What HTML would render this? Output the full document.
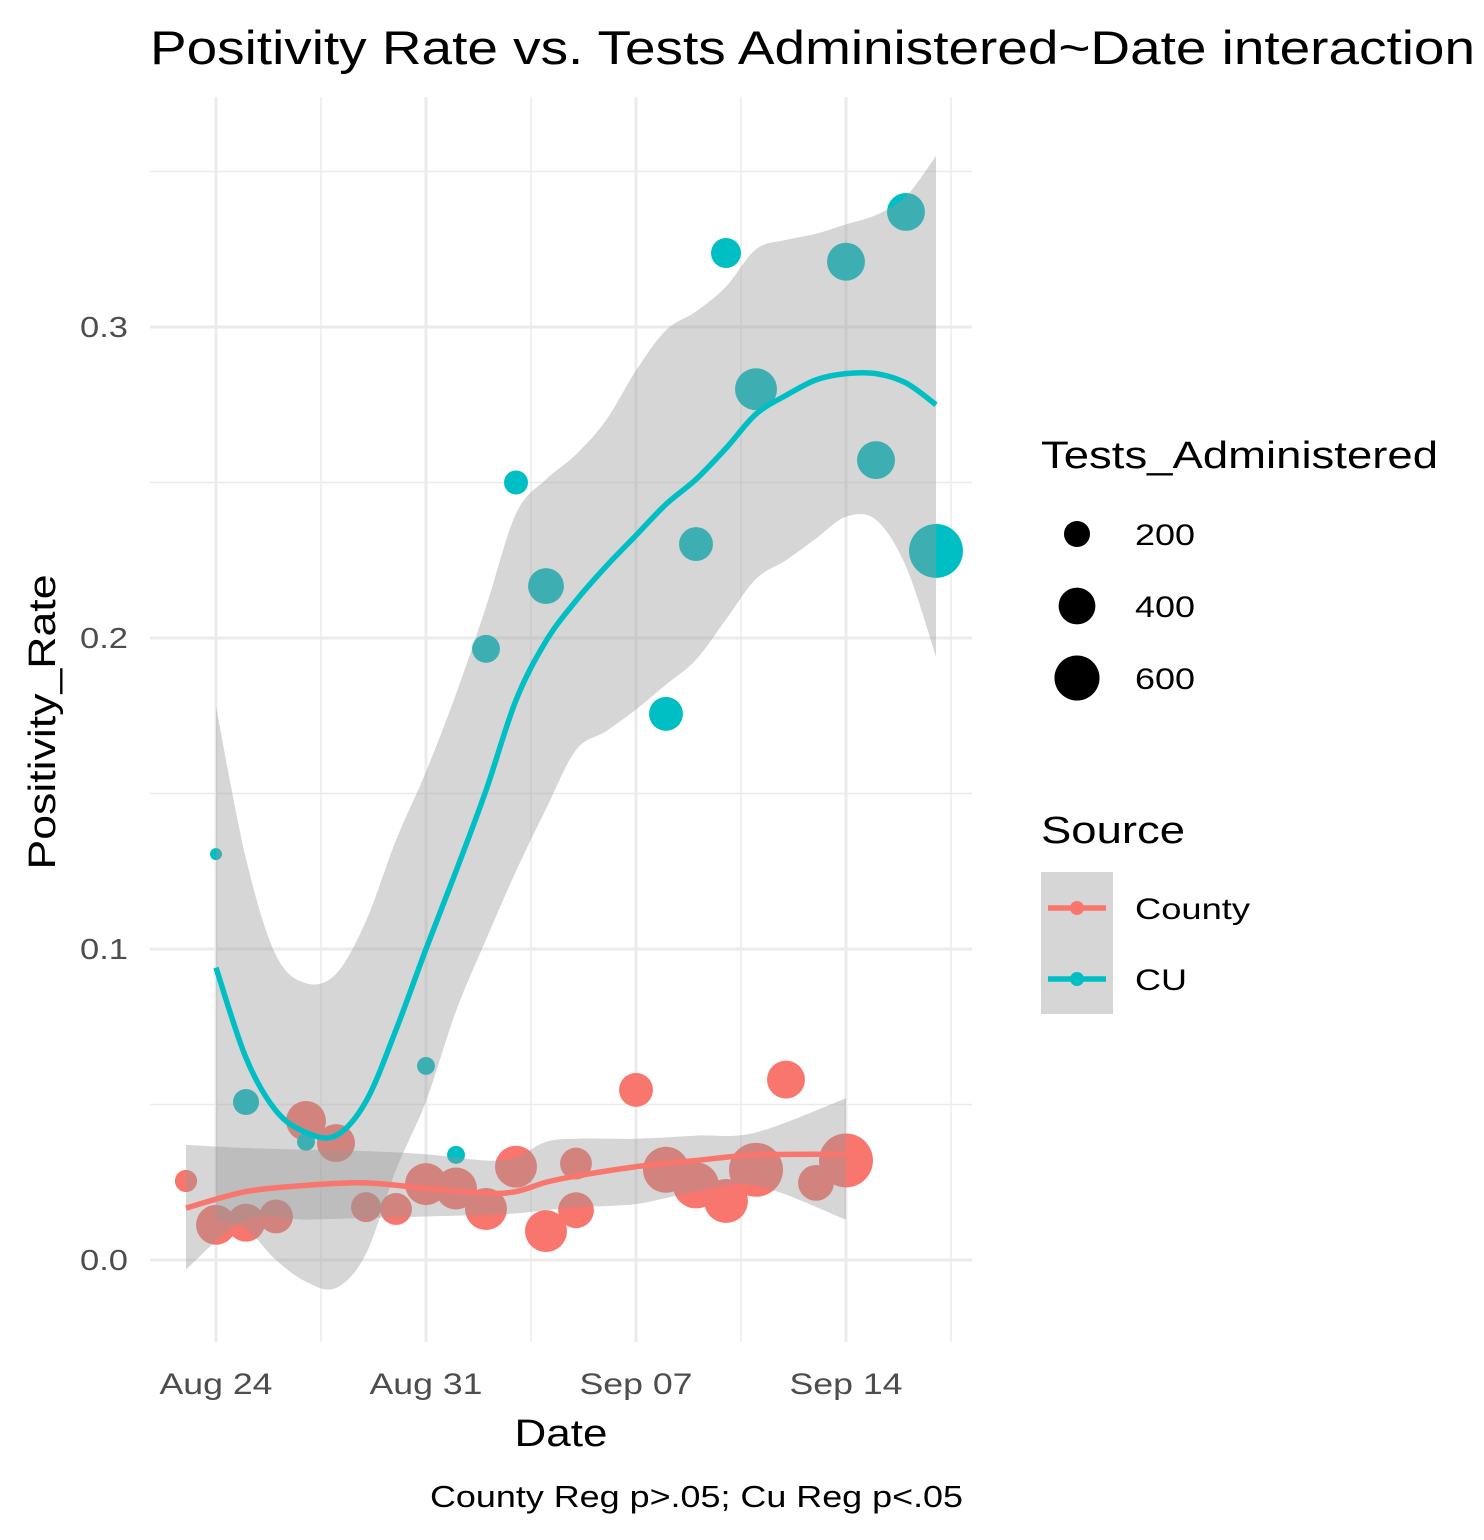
<!DOCTYPE html>
<html><head><meta charset="utf-8"><style>
body{margin:0;background:#fff}
svg{display:block;font-family:"Liberation Sans",Arial,sans-serif}
</style></head><body>
<svg id="c" width="1484" height="1540" viewBox="0 0 1484 1540"></svg>
<script>
// ---- data ----
const countyDays=[-1,0,1,2,3,4,5,6,7,8,9,10,11,12,12,14,15,16,17,18,19,20,21];
const countyRate=[0.0254,0.0113,0.012,0.014,0.0447,0.0376,0.017,0.0164,0.0244,0.023,0.0164,0.030,0.0093,0.031,0.016,0.0547,0.029,0.024,0.019,0.029,0.058,0.0248,0.032];
const countyTests=[145,470,425,340,470,425,265,300,520,520,520,520,520,300,380,340,625,625,570,860,425,380,860];
const cuDays=[0,1,3,7,8,9,10,11,15,16,17,18,21,22,23,24];
const cuRate=[0.1305,0.0508,0.038,0.0624,0.0338,0.1965,0.250,0.2167,0.1756,0.2302,0.3238,0.280,0.321,0.2572,0.337,0.228];
const cuTests=[42,200,95,95,95,230,170,380,340,340,265,520,425,425,425,860];
const cuFitDays=[0,1,2,3,4,5,6,7,8,9,10,11,12,13,14,15,16,17,18,19,20,21,22,23,24];
const cuFit=[0.094,0.065,0.048,0.041,0.040,0.051,0.074,0.100,0.125,0.151,0.180,0.199,0.212,0.223,0.233,0.243,0.251,0.261,0.272,0.278,0.283,0.285,0.285,0.282,0.275];
const cuUpper=[0.178,0.129,0.098,0.089,0.092,0.109,0.135,0.157,0.182,0.210,0.240,0.251,0.259,0.270,0.286,0.299,0.305,0.313,0.325,0.328,0.330,0.333,0.336,0.342,0.355];
const cuLower=[0.013,0.010,0.000,-0.007,-0.009,0.002,0.029,0.051,0.080,0.103,0.125,0.145,0.164,0.170,0.177,0.185,0.193,0.206,0.219,0.225,0.232,0.239,0.238,0.223,0.194];
const coFitDays=[-1,1,3,5,7,9,10,11,12,14,16,18,21];
const coFit=[0.0167,0.022,0.024,0.0248,0.023,0.0215,0.022,0.025,0.027,0.030,0.032,0.0338,0.034];
const coUpper=[0.037,0.036,0.0355,0.035,0.034,0.032,0.033,0.038,0.039,0.039,0.040,0.041,0.052];
const coLower=[-0.003,0.013,0.013,0.0135,0.014,0.0145,0.015,0.016,0.017,0.018,0.022,0.024,0.013];
const xTickDays=[0,7,14,21];
const xTickLabels=["Aug 24","Aug 31","Sep 07","Sep 14"];
const yTicks=[0,0.1,0.2,0.3];
const yTickLabels=["0.0","0.1","0.2","0.3"];
const legendSizes=[200,400,600];

// ---- scales ----
const X=d=>216+d*30;
const Y=v=>1260-v*3110;
const R=n=>0.92*Math.sqrt(n);
const NS="http://www.w3.org/2000/svg";
const svg=document.getElementById('c');
function el(t,a,p){const e=document.createElementNS(NS,t);for(const k in a)e.setAttribute(k,a[k]);(p||svg).appendChild(e);return e;}
function txt(s,a,len){const e=el('text',a);e.textContent=s;if(len){e.setAttribute('textLength',len);e.setAttribute('lengthAdjust','spacingAndGlyphs');}return e;}

// grid
for(let i=0;i<4;i++){let l=el('line',{x1:X(xTickDays[i]+3.5),x2:X(xTickDays[i]+3.5),y1:97,y2:1342,stroke:'#ebebeb','stroke-width':1.5});
}
for(let i=0;i<4;i++){let v=yTicks[i]+0.05;let l=el('line',{x1:150,x2:972,y1:Y(v),y2:Y(v),stroke:'#ebebeb','stroke-width':1.5});
}
xTickDays.forEach((d,i)=>{let l=el('line',{x1:X(d),x2:X(d),y1:97,y2:1342,stroke:'#ebebeb','stroke-width':3});

let t=txt(xTickLabels[i],{x:X(d),y:1394,'text-anchor':'middle','font-size':30,fill:'#4d4d4d'},113);
});
yTicks.forEach((v,i)=>{let l=el('line',{x1:150,x2:972,y1:Y(v),y2:Y(v),stroke:'#ebebeb','stroke-width':3});

let t=txt(yTickLabels[i],{x:128,y:Y(v)+10,'text-anchor':'end','font-size':29,fill:'#4d4d4d'},48);
});

// points
countyDays.forEach((d,i)=>{let c=el('circle',{cx:X(d),cy:Y(countyRate[i]),r:R(countyTests[i]),fill:'#F8766D'});
});
cuDays.forEach((d,i)=>{let c=el('circle',{cx:X(d),cy:Y(cuRate[i]),r:R(cuTests[i]),fill:'#00BFC4'});
});

function smoothPath(xs,ys){let p=xs.map((x,i)=>[X(x),Y(ys[i])]);let s='M'+p[0][0]+','+p[0][1];
for(let i=0;i<p.length-1;i++){const p0=p[i-1]||p[i],p1=p[i],p2=p[i+1],p3=p[i+2]||p2;
s+=` C${p1[0]+(p2[0]-p0[0])/6},${p1[1]+(p2[1]-p0[1])/6} ${p2[0]-(p3[0]-p1[0])/6},${p2[1]-(p3[1]-p1[1])/6} ${p2[0]},${p2[1]}`;}return s;}
function ribbon(xs,up,lo,name){let a=smoothPath(xs,up);let rx=xs.slice().reverse(),rl=lo.slice().reverse();
let b=smoothPath(rx,rl).replace(/^M/,'L');let p=el('path',{d:a+b+'Z',fill:'#999999','fill-opacity':0.4});
}
ribbon(coFitDays,coUpper,coLower,'county-confidence-band');
ribbon(cuFitDays,cuUpper,cuLower,'cu-confidence-band');
let l1=el('path',{d:smoothPath(coFitDays,coFit),fill:'none',stroke:'#F8766D','stroke-width':5.5});

let l2=el('path',{d:smoothPath(cuFitDays,cuFit),fill:'none',stroke:'#00BFC4','stroke-width':5.5});


// titles
let t=txt('Positivity Rate vs. Tests Administered~Date interaction',{x:150,y:64,'font-size':47,fill:'#000'},1325);

t=txt('Date',{x:561,y:1446,'text-anchor':'middle','font-size':38,fill:'#000'},93);

t=txt('Positivity_Rate',{x:0,y:0,'text-anchor':'middle','font-size':38,fill:'#000',transform:'translate(55,722) rotate(-90)'},295);

t=txt('County Reg p>.05; Cu Reg p<.05',{x:963,y:1507,'text-anchor':'end','font-size':31,fill:'#000'},533);


// size legend
t=txt('Tests_Administered',{x:1041,y:468,'font-size':38,fill:'#000'},397);

legendSizes.forEach((n,i)=>{let cy=534+i*72;let c=el('circle',{cx:1077,cy:cy,r:R(n),fill:'#000'});

let tt=txt(String(n),{x:1135,y:cy+11,'font-size':30,fill:'#000'},60);
});

// source legend
t=txt('Source',{x:1041,y:843,'font-size':38,fill:'#000'},144);

[['County','#F8766D',908,115],['CU','#00BFC4',979,52]].forEach(([n,col,cy,w])=>{
let r=el('rect',{x:1041,y:cy-36,width:72,height:71,fill:'#999','fill-opacity':0.4});

let l=el('line',{x1:1048,x2:1106,y1:cy,y2:cy,stroke:col,'stroke-width':5.5});

let c=el('circle',{cx:1077,cy:cy,r:7,fill:col});

let tt=txt(n,{x:1135,y:cy+11,'font-size':30,fill:'#000'},w);
});
</script>
</body></html>
